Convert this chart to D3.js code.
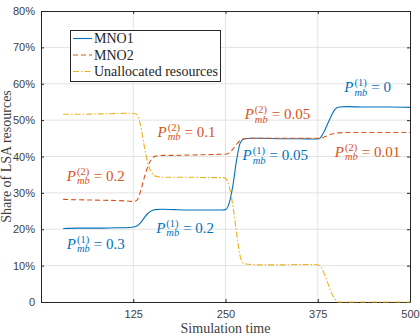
<!DOCTYPE html>
<html>
<head>
<meta charset="utf-8">
<script src="https://cdn.jsdelivr.net/npm/d3@7"></script>
<style>
  body { margin: 0; background: #fff; }
  svg { display: block; }
</style>
</head>
<body>
<svg id="chart" width="420" height="336"></svg>
<script>
// simulation time samples
const time = [30, 50, 75, 100, 120, 125, 130, 135, 140, 145, 150, 155, 165, 180, 200, 225, 245, 250, 255, 260, 265, 270, 275, 285, 300, 325, 350, 370, 377, 383, 388, 393, 398, 404, 415, 440, 470, 500];

const mno1 = [20.2, 20.3, 20.3, 20.4, 20.5, 20.6, 20.9, 21.8, 23.2, 24.4, 25.1, 25.4, 25.5, 25.4, 25.3, 25.3, 25.3, 25.4, 27.2, 32.0, 39.0, 43.8, 44.8, 45.0, 45.0, 44.9, 44.9, 44.8, 44.9, 46.6, 48.8, 51.0, 52.9, 53.6, 53.7, 53.6, 53.6, 53.5];
const mno2 = [28.2, 28.1, 28.0, 27.9, 27.7, 27.6, 28.0, 30.5, 34.2, 37.4, 39.3, 40.1, 40.3, 40.3, 40.4, 40.5, 40.6, 40.6, 41.0, 42.0, 43.3, 44.5, 44.9, 45.0, 45.0, 45.0, 45.0, 45.0, 45.0, 45.3, 45.7, 46.1, 46.3, 46.5, 46.6, 46.6, 46.6, 46.6];
const unalloc = [51.6, 51.6, 51.7, 51.8, 51.9, 51.9, 51.5, 48.5, 42.8, 38.0, 35.6, 34.6, 34.3, 34.3, 34.3, 34.2, 34.2, 34.0, 31.8, 26.5, 19.0, 12.5, 10.6, 10.3, 10.2, 10.2, 10.3, 10.3, 10.1, 8.2, 5.6, 2.8, 0.8, 0.0, 0.0, 0.0, 0.0, 0.0];

const xTicks = [125, 250, 375, 500];
const yTicks = [0, 10, 20, 30, 40, 50, 60, 70, 80];

const seriesNames = ["MNO1", "MNO2", "Unallocated resources"];
const seriesColors = ["#0072BD", "#D95319", "#EDB120"];

// annotation labels: P_mb^(sup) = val, anchored at (time, share) of baseline-left
const labelSup = ["(2)", "(1)", "(2)", "(1)", "(2)", "(1)", "(1)", "(2)"];
const labelVal = ["0.2", "0.3", "0.1", "0.2", "0.05", "0.05", "0", "0.01"];
const labelT = [35, 35, 158, 156, 276, 273, 411, 398];
const labelV = [33.3, 14.6, 45.4, 19.0, 50.3, 39.0, 57.7, 39.9];
const labelSeries = [1, 0, 1, 0, 1, 0, 0, 1];

const margin = { top: 11, right: 10, bottom: 34, left: 41 };
const W = 420, H = 336;
const svg = d3.select("#chart");

const x = d3.scaleLinear().domain([0, 500]).range([margin.left, W - margin.right]);
const y = d3.scaleLinear().domain([0, 80]).range([H - margin.bottom, margin.top]);

const axisColor = "#262626";
const serif = "'Liberation Serif', 'Times New Roman', serif";
const sans = "'Liberation Sans', Arial, sans-serif";

// grid
const grid = svg.append("g");
grid.selectAll(".gx").data(xTicks.filter(d => d < 500)).enter().append("line")
  .attr("x1", d => x(d)).attr("x2", d => x(d))
  .attr("y1", y(0)).attr("y2", y(80))
  .attr("stroke", "#e3e3e3").attr("stroke-width", 1);
grid.selectAll(".gy").data(yTicks.filter(d => d > 0 && d < 80)).enter().append("line")
  .attr("x1", x(0)).attr("x2", x(500))
  .attr("y1", d => y(d)).attr("y2", d => y(d))
  .attr("stroke", "#e3e3e3").attr("stroke-width", 1);

// axes
const fmtY = d => d === 0 ? "0" : d + "%";
const gx = svg.append("g").attr("transform", `translate(0,${y(0)})`)
  .call(d3.axisBottom(x).tickValues(xTicks).tickSizeInner(-3).tickSizeOuter(0).tickPadding(8));
const gxTop = svg.append("g").attr("transform", `translate(0,${y(80)})`)
  .call(d3.axisTop(x).tickValues(xTicks).tickSizeInner(-3).tickSizeOuter(0).tickFormat(""));
const gy = svg.append("g").attr("transform", `translate(${x(0)},0)`)
  .call(d3.axisLeft(y).tickValues(yTicks).tickFormat(fmtY).tickSizeInner(-3).tickSizeOuter(0).tickPadding(6));
const gyRight = svg.append("g").attr("transform", `translate(${x(500)},0)`)
  .call(d3.axisRight(y).tickValues(yTicks).tickFormat("").tickSizeInner(-3).tickSizeOuter(0));

[gx, gxTop, gy, gyRight].forEach(g => {
  g.select(".domain").attr("stroke", axisColor).attr("stroke-width", 1);
  g.selectAll(".tick line").attr("stroke", axisColor);
  g.selectAll(".tick text").attr("fill", "#404040").style("font-family", sans).style("font-size", "11px");
});

// lines
const allSeries = [mno1, mno2, unalloc];
const dashes = [null, "5,3", "6,2,1.5,2"];
const line = d3.line()
  .x((d, i) => x(time[i]))
  .y(d => y(d))
  .curve(d3.curveMonotoneX);

allSeries.forEach((s, k) => {
  svg.append("path")
    .datum(s)
    .attr("d", line)
    .attr("fill", "none")
    .attr("stroke", seriesColors[k])
    .attr("stroke-width", 1.1)
    .attr("stroke-dasharray", dashes[k]);
});

// math labels
function mathLabel(px, py, sup, val, color) {
  const g = svg.append("g").attr("fill", color).style("font-family", serif);
  const p = g.append("text").attr("x", px).attr("y", py)
    .style("font-size", "15px").style("font-style", "italic").text("P");
  const pw = p.node().getComputedTextLength();
  const sx = px + pw + 1;
  const s1 = g.append("text").attr("x", sx).attr("y", py - 6)
    .style("font-size", "10.5px").text(sup);
  const s2 = g.append("text").attr("x", sx).attr("y", py + 3.5)
    .style("font-size", "10.5px").style("font-style", "italic").text("mb");
  const w = Math.max(s1.node().getComputedTextLength(), s2.node().getComputedTextLength());
  g.append("text").attr("x", sx + w + 4).attr("y", py)
    .style("font-size", "15px").text("= " + val);
}
labelSup.forEach((s, i) => {
  mathLabel(x(labelT[i]), y(labelV[i]), s, labelVal[i], seriesColors[labelSeries[i]]);
});

// legend
const lg = svg.append("g");
lg.append("rect").attr("x", 70.5).attr("y", 30.5).attr("width", 150).attr("height", 51)
  .attr("fill", "#fff").attr("stroke", axisColor).attr("stroke-width", 1);
seriesNames.forEach((name, k) => {
  const yy = 38.5 + k * 16.5;
  lg.append("line").attr("x1", 73).attr("x2", 92).attr("y1", yy).attr("y2", yy)
    .attr("stroke", seriesColors[k]).attr("stroke-width", 1.1)
    .attr("stroke-dasharray", dashes[k]);
  lg.append("text").attr("x", 94).attr("y", yy + 4.5)
    .attr("fill", axisColor).style("font-family", serif).style("font-size", "14px")
    .text(name);
});

// axis titles
svg.append("text").attr("x", (x(0) + x(500)) / 2).attr("y", 333)
  .attr("text-anchor", "middle").attr("fill", "#404040")
  .style("font-family", serif).style("font-size", "14px").text("Simulation time");
svg.append("text")
  .attr("transform", `translate(11,${(y(0) + y(80)) / 2}) rotate(-90)`)
  .attr("text-anchor", "middle").attr("fill", "#404040")
  .style("font-family", serif).style("font-size", "14px").text("Share of LSA resources");
</script>
</body>
</html>
